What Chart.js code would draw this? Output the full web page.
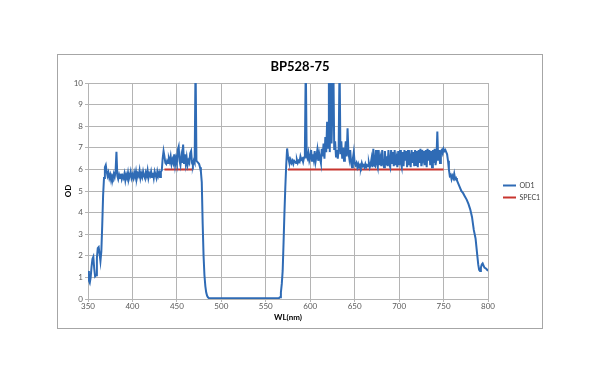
<!DOCTYPE html>
<html><head><meta charset="utf-8">
<script src="https://cdn.jsdelivr.net/npm/chart.js@4"></script>
<style>
html,body{margin:0;padding:0;background:#fff;width:600px;height:383px;overflow:hidden}
#frame{position:absolute;left:57px;top:54px;width:484px;height:273px;border:1px solid #a6a6a6;background:#fff}
canvas{display:block}
</style></head><body>
<div id="frame"><canvas id="c" width="484" height="273"></canvas></div>
<script>
// ---- data ----
const wavelengths = [
 350,351,352,353,354,355,356,357,358,359,
 360,361,362,363,364,365,366,367,368,369,
 370,371,372,373,374,375,376,377,378,379,
 380,381,382,383,384,385,386,387,388,389,
 390,391,392,393,394,395,396,397,398,399,
 400,401,402,403,404,405,406,407,408,409,
 410,411,412,413,414,415,416,417,418,419,
 420,421,422,423,424,425,426,427,428,429,
 430,431,432,433,434,435,436,437,438,439,
 440,441,442,443,444,445,446,447,448,449,
 450,451,452,453,454,455,456,457,458,459,
 460,461,462,463,464,465,466,467,468,469,
 470,471,472,473,474,475,476,477,478,479,
 480,481,482,483,484,485,486,
 488,490,500,510,520,530,540,550,560,565,
 566,567,568,569,570,571,572,573,574,575,576,
 577,578,579,580,581,582,583,584,585,586,
 587,588,589,590,591,592,593,594,595,596,
 597,598,599,600,601,602,603,604,605,606,
 607,608,609,610,611,612,613,614,615,616,
 617,618,619,620,621,622,623,624,625,626,
 627,628,629,630,631,632,633,634,635,636,
 637,638,639,640,641,642,643,644,645,646,
 647,648,649,650,651,652,653,654,655,656,
 657,658,659,660,661,662,663,664,665,666,
 667,668,669,670,671,672,673,674,675,676,
 677,678,679,680,681,682,683,684,685,686,
 687,688,689,690,691,692,693,694,695,696,
 697,698,699,700,701,702,703,704,705,706,
 707,708,709,710,711,712,713,714,715,716,
 717,718,719,720,721,722,723,724,725,726,
 727,728,729,730,731,732,733,734,735,736,
 737,738,739,740,741,742,743,744,745,746,
 747,748,749,750,751,752,753,754,755,756,
 757,758,759,760,761,762,763,764,765,766,
 768,770,772,774,776,778,780,782,784,786,788,
 789,790,791,792,793,794,795,796,
 798,800
];
const od1 = [
 1.3,0.85,0.75,1.0,1.5,1.85,1.95,1.4,1.05,1.1,
 1.9,2.35,2.4,2.1,1.75,2.2,3.4,4.8,5.6,6.1,
 6.2,5.9,5.7,5.85,5.6,5.75,5.5,5.7,5.6,5.8,
 5.65,5.9,6.82,5.7,5.55,5.75,5.6,5.8,5.55,5.7,
 5.6,5.8,5.5,5.75,5.6,5.85,5.55,5.7,5.9,5.6,
 5.75,5.6,5.85,5.65,5.9,5.6,5.8,5.7,5.95,5.6,
 5.8,5.65,5.9,5.7,5.6,5.85,5.7,5.95,5.6,5.8,
 5.7,5.9,5.65,5.85,5.6,5.9,5.75,5.6,5.9,5.7,
 5.85,5.65,5.9,5.95,6.5,6.85,6.6,6.3,6.25,6.4,
 6.3,6.5,6.35,6.6,6.25,6.45,6.3,6.7,6.2,6.5,
 6.3,6.9,7.05,6.4,6.2,6.6,6.3,7.15,6.3,6.7,
 6.25,6.55,6.2,6.4,6.3,6.75,6.85,6.3,6.2,6.4,
 6.3,11,6.4,6.35,6.3,6.25,6.1,5.9,5.4,3.5,
 2.0,1.1,0.6,0.3,0.15,0.08,0.04,
 0.03,0.03,0.04,0.03,0.04,0.03,0.04,0.03,0.04,0.05,
 0.08,0.3,0.7,1.3,2.6,4.0,5.2,6.2,6.97,6.6,6.4,
 6.3,6.45,6.3,6.4,6.25,6.4,6.35,6.3,6.45,6.3,
 6.4,6.35,6.6,6.45,6.5,6.35,6.55,6.8,11,6.6,
 6.5,6.75,6.4,6.55,6.9,6.4,6.7,6.45,6.85,6.35,
 6.6,6.9,6.4,6.75,6.5,6.3,6.95,6.6,7.2,6.5,
 7.5,6.8,8.2,7.0,11,6.8,11,7.2,9.0,11,
 6.9,7.3,6.6,6.9,6.5,7.0,11,6.7,7.3,6.5,
 7.0,6.4,6.8,7.3,6.6,7.9,6.8,6.5,6.9,6.3,
 6.1,6.5,6.8,6.3,6.2,6.3,6.1,6.25,6.1,6.2,
 6.1,6.3,6.15,6.2,6.1,6.25,6.1,6.2,6.15,6.3,
 6.1,6.25,6.5,6.1,6.95,6.2,6.15,6.9,6.3,6.1,
 6.9,6.2,6.5,6.15,6.9,6.3,6.1,6.85,6.2,6.6,
 6.15,6.9,6.25,6.1,6.9,6.3,6.8,6.15,6.9,6.2,
 6.5,6.1,6.85,6.2,6.9,6.3,6.1,6.8,6.15,6.9,
 6.4,6.85,6.1,6.9,6.2,6.5,6.1,6.9,6.3,6.8,
 6.15,6.9,6.2,6.85,6.1,6.9,6.3,6.95,6.15,6.9,
 6.5,6.85,6.2,6.9,6.1,6.95,6.4,6.9,6.2,6.85,
 6.1,6.9,6.3,6.95,6.2,6.5,7.75,6.4,6.9,6.3,
 6.85,6.9,6.75,6.95,6.85,6.9,6.8,6.7,6.4,6.0,
 5.7,5.75,5.55,5.7,5.6,5.8,5.55,5.6,5.5,5.4,
 5.2,5.0,4.9,4.75,4.6,4.4,4.15,3.8,3.2,2.8,2.0,
 1.6,1.35,1.3,1.45,1.6,1.65,1.55,1.45,
 1.4,1.3
];
const specWavelengths = [436, 468.5, 520, 575, 750];
const specOD = [6, 6, null, 6, 6];
const xTicks = { min: 350, max: 800, step: 50 };
const yTicks = { min: 0, max: 10, step: 1 };
const chartTitle = 'BP528-75';
const seriesNames = ['OD1', 'SPEC1'];
const axisTitles = { x: 'WL(nm)', y: 'OD' };

// ---- chart ----
const FONT = "Lato, 'Liberation Sans', sans-serif";
const GRID = '#b4b4b4';
const TICK_COLOR = '#595959';
const od1Points = wavelengths.map((x, i) => ({ x: x, y: od1[i] }));
const specPoints = specWavelengths.map((x, i) => ({ x: x, y: specOD[i] }));

new Chart(document.getElementById('c'), {
  type: 'line',
  data: {
    datasets: [
      { label: seriesNames[0], data: od1Points, borderColor: '#2f6bb5', backgroundColor: '#2f6bb5',
        borderWidth: 2, pointRadius: 0, tension: 0, fill: false },
      { label: seriesNames[1], data: specPoints, borderColor: '#c8352e', backgroundColor: '#c8352e',
        borderWidth: 2, pointRadius: 0, tension: 0, fill: false, spanGaps: false }
    ]
  },
  options: {
    responsive: false, animation: false, devicePixelRatio: 1,
    layout: { padding: 0 },
    plugins: {
      title: { display: true, text: chartTitle, color: '#000',
        font: { family: FONT, size: 13, weight: 'bold' }, padding: { top: 4, bottom: 8.4 } },
      legend: { position: 'right', align: 'center', maxWidth: 44,
        labels: { usePointStyle: true, pointStyle: 'line', pointStyleWidth: 13, padding: 5,
          color: '#404040', font: { family: FONT, size: 7 } } },
      tooltip: { enabled: false }
    },
    scales: {
      x: { type: 'linear', min: xTicks.min, max: xTicks.max,
        ticks: { stepSize: xTicks.step, color: TICK_COLOR, padding: 0, maxRotation: 0,
          font: { family: FONT, size: 8 } },
        grid: { color: GRID, tickLength: 3 }, border: { color: GRID },
        title: { display: true, text: axisTitles.x, color: '#000',
          font: { family: FONT, size: 8, weight: 'bold' }, padding: { top: 0, bottom: 6 } },
        afterFit: s => { s.height = 29; } },
      y: { type: 'linear', min: yTicks.min, max: yTicks.max,
        ticks: { stepSize: yTicks.step, color: TICK_COLOR, padding: 2,
          font: { family: FONT, size: 8 } },
        grid: { color: GRID, tickLength: 3 }, border: { color: GRID },
        title: { display: true, text: axisTitles.y, color: '#000',
          font: { family: FONT, size: 8, weight: 'bold' }, padding: { top: 6, bottom: 0 } },
        afterFit: s => { s.width = 30; } },
      gap: { position: 'right', display: true, grid: { display: false }, border: { display: false },
        ticks: { display: false }, afterFit: s => { s.width = 10; } }
    }
  }
});
</script>
</body></html>
